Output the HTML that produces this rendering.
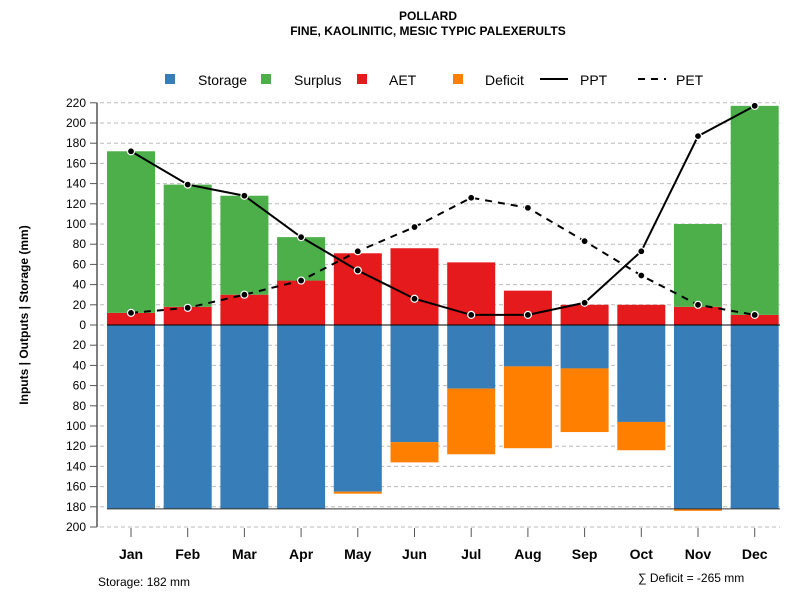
<!DOCTYPE html>
<html><head><meta charset="utf-8"><style>body{margin:0;background:#fff}svg{font-family:"Liberation Sans",sans-serif}</style></head>
<body>
<svg id="c" width="800" height="600">
<text x="428" y="20" text-anchor="middle" font-size="12" font-weight="bold">POLLARD</text>
<text x="428" y="35" text-anchor="middle" font-size="12" font-weight="bold">FINE, KAOLINITIC, MESIC TYPIC PALEXERULTS</text>
<g id="legend" font-size="14">
<rect x="165" y="74" width="10" height="10" fill="#377EB8"/><text x="198" y="85">Storage</text>
<rect x="261" y="74" width="10" height="10" fill="#4DAF4A"/><text x="294" y="85">Surplus</text>
<rect x="357" y="74" width="10" height="10" fill="#E41A1C"/><text x="389" y="85">AET</text>
<rect x="453" y="74" width="10" height="10" fill="#FF7F00"/><text x="485" y="85">Deficit</text>
<line x1="540" y1="79" x2="568" y2="79" stroke="#000" stroke-width="2"/><text x="580" y="85">PPT</text>
<line x1="638" y1="79" x2="666" y2="79" stroke="#000" stroke-width="2" stroke-dasharray="7,6"/><text x="676" y="85">PET</text>
</g>
<text transform="translate(28,315) rotate(-90)" text-anchor="middle" font-size="12" font-weight="bold">Inputs | Outputs | Storage    (mm)</text>
<text x="98" y="586" font-size="12">Storage: 182 mm</text>
<text x="638" y="582" font-size="12">∑ Deficit = -265 mm</text>
</svg>
<script>
const months=["Jan","Feb","Mar","Apr","May","Jun","Jul","Aug","Sep","Oct","Nov","Dec"];
const ppt=[172,139,128,87,54,26,10,10,22,73,187,217];
const pet=[12,17,30,44,73,97,126,116,83,49,20,10];
const aet=[12,18,30,44,71,76,62,34,20,20,18,10];
const surplus=[160,121,98,43,0,0,0,0,0,0,82,207];
const storage=[182,182,182,182,165,116,63,41,43,96,182,182];
const deficit=[0,0,0,0,2,20,65,81,63,28,2,0];
const yTicks=[220,200,180,160,140,120,100,80,60,40,20,0,20,40,60,80,100,120,140,160,180,200];
const svg=document.getElementById('c'),NS="http://www.w3.org/2000/svg";
const y0=325,k=1.01;
const Y=v=>y0-v*k;
const X=i=>131+i*56.7;
const bw=48;
function mk(t,a){const e=document.createElementNS(NS,t);for(const q in a)e.setAttribute(q,a[q]);svg.appendChild(e);return e;}
// grid and y axis
for(let i=0;i<yTicks.length;i++){const v=i<=11?yTicks[i]:-yTicks[i];const y=Y(v);
const g=mk('line',{x1:100,x2:780,y1:y,y2:y,stroke:'#bbb','stroke-dasharray':'4,3'});


const tk=mk('line',{x1:90,x2:97,y1:y,y2:y,stroke:'#555'});


const t=mk('text',{x:86,y:y+4,'text-anchor':'end','font-size':12});t.textContent=yTicks[i];

}
const ax=mk('line',{x1:97,x2:97,y1:Y(220),y2:Y(-200),stroke:'#555','stroke-width':1.5});


// bars
for(let i=0;i<12;i++){const x=X(i)-bw/2;
const bars=[['#E41A1C',0,aet[i],'bar-aet'],['#4DAF4A',aet[i],aet[i]+surplus[i],'bar-surplus'],['#377EB8',-storage[i],0,'bar-storage'],['#FF7F00',-storage[i]-deficit[i],-storage[i],'bar-deficit']];
for(const b of bars){if(b[2]-b[1]<=0)continue;const r=mk('rect',{x:x,y:Y(b[2]),width:bw,height:(b[2]-b[1])*k,fill:b[0]});

}
const tk=mk('line',{x1:X(i),x2:X(i),y1:528,y2:537,stroke:'#555'});


const t=mk('text',{x:X(i),y:559,'text-anchor':'middle','font-size':14,'font-weight':'bold'});t.textContent=months[i];

}
const zl=mk('line',{x1:107,x2:780,y1:y0,y2:y0,stroke:'#000'});


const sl=mk('line',{x1:107,x2:780,y1:Y(-182),y2:Y(-182),stroke:'#333'});


// lines
function series(arr,name,dash){const p=mk('polyline',{points:arr.map((v,i)=>X(i)+','+Y(v)).join(' '),fill:'none',stroke:'#000','stroke-width':2,'stroke-dasharray':dash});


arr.forEach((v,i)=>{const c=mk('circle',{cx:X(i),cy:Y(v),r:3.5,fill:'#000',stroke:'#fff','stroke-width':1.2});

});}
series(pet,'pet','7,6');
series(ppt,'ppt','none');
</script>
</body></html>
